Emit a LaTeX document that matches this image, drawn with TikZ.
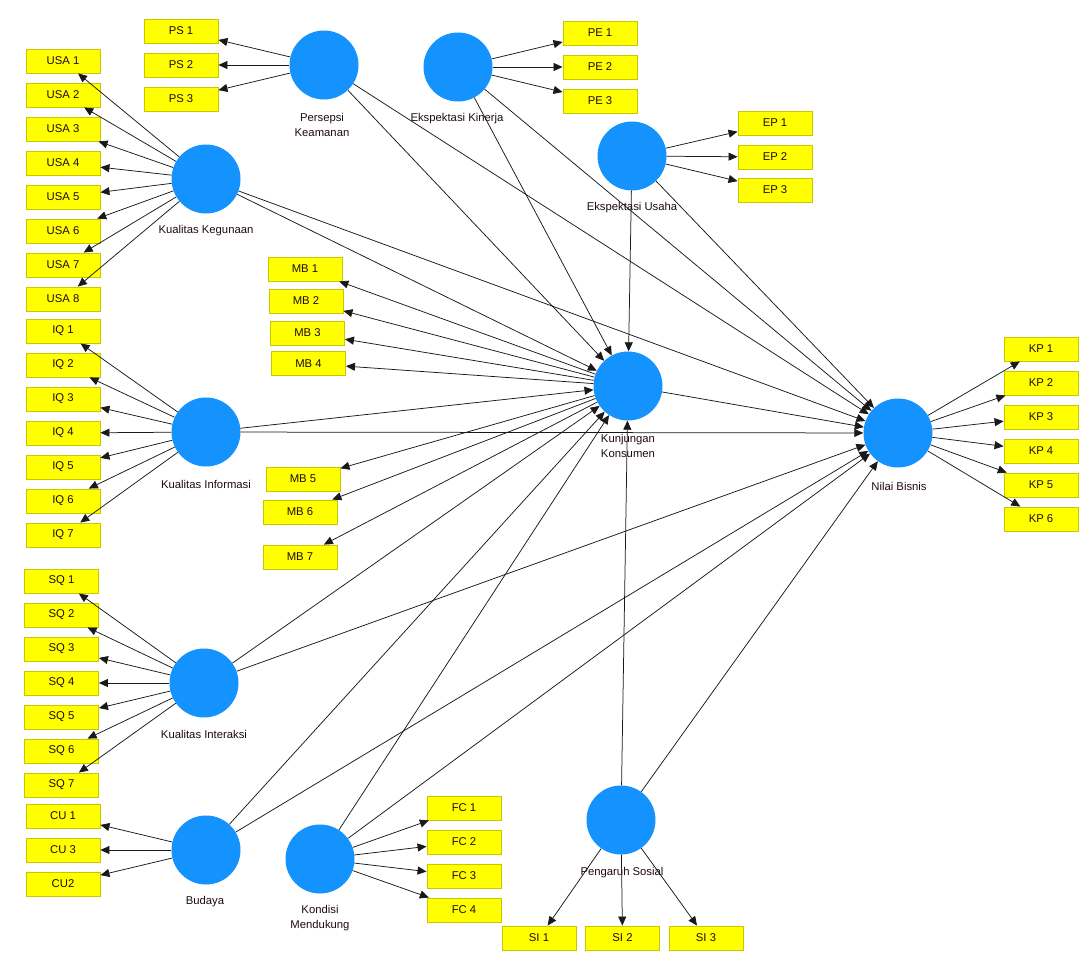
\documentclass[tikz,border=0pt]{standalone}
\usepackage{fontspec}
\setmainfont{Liberation Sans}
\usetikzlibrary{arrows.meta}
\definecolor{lvc}{RGB}{20,147,255}
\definecolor{indf}{RGB}{255,255,0}
\definecolor{indb}{RGB}{200,200,0}
\definecolor{txt}{RGB}{30,10,20}
\tikzset{
 lv/.style={circle, fill=lvc, minimum size=69pt, inner sep=0pt},
 mv/.style={rectangle, fill=indf, draw=indb, line width=0.9pt, minimum width=74pt, minimum height=24pt, inner sep=0pt, text=txt, font=\fontsize{11.3}{12}\selectfont},
 lab/.style={font=\fontsize{11.3}{15}\selectfont, align=center, inner sep=0pt, text=txt},
 arr/.style={-{Triangle[length=9pt,width=8pt]}, line width=0.75pt, draw=black!90},
}
\begin{document}
\begin{tikzpicture}[x=1pt,y=-1pt]
\useasboundingbox (0,0) rectangle (1084,956);
\fill[white] (0,0) rectangle (1084,956);

% latent variables
\node[lv] (PK) at (324,65) {};
\node[lv] (KK) at (206,179) {};
\node[lv] (EK) at (458,67) {};
\node[lv] (EU) at (632,156) {};
\node[lv] (KJ) at (628,386) {};
\node[lv] (NB) at (898,433) {};
\node[lv] (KI) at (206,432) {};
\node[lv] (KX) at (204,683) {};
\node[lv] (BU) at (206,850) {};
\node[lv] (KM) at (320,859) {};
\node[lv] (PS) at (621,820) {};

% indicators
\foreach \i/\y in {1/31,2/65,3/99} \node[mv] (mPS\i) at (181,\y) {PS \i};
\foreach \i/\y in {1/33,2/67,3/101} \node[mv] (mPE\i) at (600,\y) {PE \i};
\foreach \i/\y in {1/123,2/157,3/190} \node[mv] (mEP\i) at (775,\y) {EP \i};
\foreach \i in {1,...,8} \node[mv] (mUSA\i) at (63,{27+34*\i}) {USA \i};
\foreach \i in {1,...,7} \node[mv] (mIQ\i) at (63,{297+34*\i}) {IQ \i};
\foreach \i in {1,...,7} \node[mv] (mSQ\i) at (61.5,{547+34*\i}) {SQ \i};
\node[mv] (mCU1) at (63,816) {CU 1};
\node[mv] (mCU3) at (63,850) {CU 3};
\node[mv] (mCU2) at (63,884) {CU2};
\foreach \i in {1,...,6} \node[mv] (mKP\i) at (1041,{315+34*\i}) {KP \i};
\foreach \i in {1,...,4} \node[mv] (mFC\i) at (464,{774+34*\i}) {FC \i};
\foreach \i/\x in {1/539,2/622.5,3/706} \node[mv] (mSI\i) at (\x,938) {SI \i};
\node[mv] (mMB1) at (305,269) {MB 1};
\node[mv] (mMB2) at (306,301) {MB 2};
\node[mv] (mMB3) at (307.5,333) {MB 3};
\node[mv] (mMB4) at (308.5,363.5) {MB 4};
\node[mv] (mMB5) at (303,479) {MB 5};
\node[mv] (mMB6) at (300,512) {MB 6};
\node[mv] (mMB7) at (300,557) {MB 7};

% inner model
\foreach \s in {PK,KK,EK,EU,KI,KX,BU,KM,PS} {
  \draw[arr] (\s) -- (KJ);
  \draw[arr] (\s) -- (NB);
}
\draw[arr] (KJ) -- (NB);

% outer model
\foreach \i in {1,2,3} \draw[arr] (PK) -- (mPS\i);
\foreach \i in {1,2,3} \draw[arr] (EK) -- (mPE\i);
\foreach \i in {1,2,3} \draw[arr] (EU) -- (mEP\i);
\foreach \i in {1,...,8} \draw[arr] (KK) -- (mUSA\i);
\foreach \i in {1,...,7} \draw[arr] (KI) -- (mIQ\i);
\foreach \i in {1,...,7} \draw[arr] (KX) -- (mSQ\i);
\foreach \i in {1,3,2} \draw[arr] (BU) -- (mCU\i);
\foreach \i in {1,...,6} \draw[arr] (NB) -- (mKP\i);
\foreach \i in {1,...,4} \draw[arr] (KM) -- (mFC\i);
\foreach \i in {1,2,3} \draw[arr] (PS) -- (mSI\i);
\foreach \i in {1,...,7} \draw[arr] (KJ) -- (mMB\i);

% labels
\node[lab] (lPK) at (322,125) {Persepsi\\Keamanan};
\node[lab] (lKK) at (206,231) {Kualitas Kegunaan};
\node[lab] (lEK) at (457,119) {Ekspektasi Kinerja};
\node[lab] (lEU) at (632,208) {Ekspektasi Usaha};
\node[lab] (lKJ) at (628,445.5) {Kunjungan\\Konsumen};
\node[lab] (lNB) at (899,486) {Nilai Bisnis};
\node[lab] (lKI) at (206,484) {Kualitas Informasi};
\node[lab] (lKX) at (204,734) {Kualitas Interaksi};
\node[lab] (lBU) at (205,902) {Budaya};
\node[lab] (lKM) at (320,918.5) {Kondisi\\Mendukung};
\node[lab] (lPS) at (622,873) {Pengaruh Sosial};
\end{tikzpicture}
\end{document}
